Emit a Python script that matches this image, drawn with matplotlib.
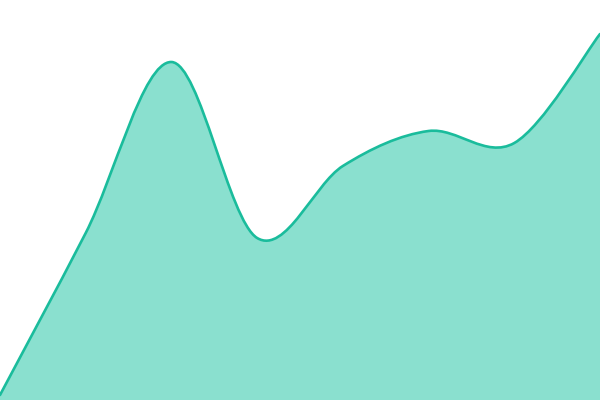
import matplotlib
matplotlib.use("Agg")
import matplotlib.pyplot as plt
from matplotlib.path import Path
from matplotlib.patches import PathPatch
import numpy as np

# data: 8 evenly spaced points
x_vals = [0, 1, 2, 3, 4, 5, 6, 7]
y_vals = [5, 167, 338, 162, 234, 269, 257, 366]

fig = plt.figure(figsize=(6, 4), dpi=100)
ax = fig.add_axes([0, 0, 1, 1])
ax.set_xlim(0, 7)
ax.set_ylim(0, 400)
ax.axis("off")


def cardinal_path(xs, ys):
    # uniform Catmull-Rom (cardinal, tension 0) as cubic Bezier
    pts = [(float(a), float(b)) for a, b in zip(xs, ys)]
    ext = [pts[0]] + pts + [pts[-1]]
    verts = [pts[0]]
    codes = [Path.MOVETO]
    for i in range(1, len(ext) - 2):
        p0, p1, p2, p3 = ext[i - 1], ext[i], ext[i + 1], ext[i + 2]
        c1 = (p1[0] + (p2[0] - p0[0]) / 6, p1[1] + (p2[1] - p0[1]) / 6)
        c2 = (p2[0] - (p3[0] - p1[0]) / 6, p2[1] - (p3[1] - p1[1]) / 6)
        verts += [c1, c2, p2]
        codes += [Path.CURVE4] * 3
    return verts, codes


verts, codes = cardinal_path(x_vals, y_vals)

# area
area_verts = verts + [(x_vals[-1], 0), (x_vals[0], 0), verts[0]]
area_codes = codes + [Path.LINETO, Path.LINETO, Path.CLOSEPOLY]
ax.add_patch(PathPatch(Path(area_verts, area_codes), facecolor="#8ae0cf",
                       edgecolor="none", zorder=1))
# line
ax.add_patch(PathPatch(Path(verts, codes), facecolor="none",
                       edgecolor="#1abc9c", lw=1.9, zorder=2,
                       capstyle="round", joinstyle="round"))

fig.savefig("out.png", dpi=100)
